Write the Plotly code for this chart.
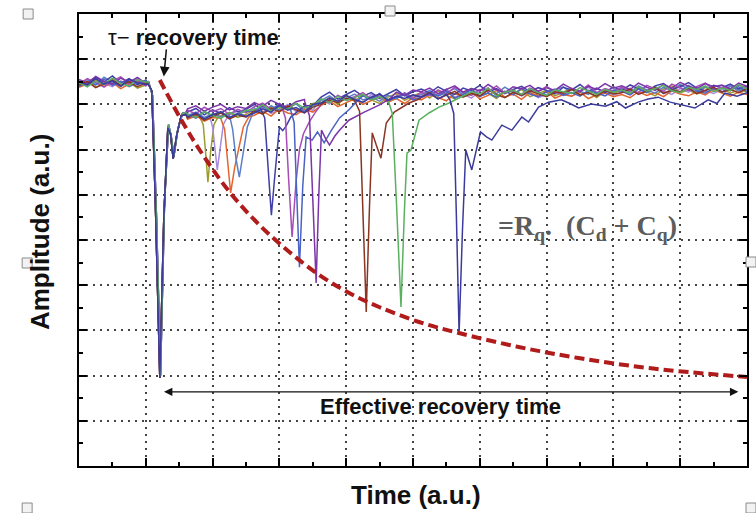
import plotly.graph_objects as go

# ---------------- data (axis units: time 0..10 divisions, amplitude 0..10 divisions) -------------
GRID_STEP = 0.125
N_GRID = 81

# shared first avalanche pulse (two slightly different shapes)
PULSE_1_X = [1.04, 1.09, 1.14, 1.21, 1.27, 1.33, 1.37, 1.41, 1.46, 1.53, 1.60]
PULSE_1_Y = [8.45, 8.30, 6.00, 1.95, 5.50, 7.48, 7.35, 6.80, 7.30, 7.75, 7.78]
PULSE_2_X = [1.04, 1.10, 1.16, 1.22, 1.28, 1.34, 1.38, 1.42, 1.48, 1.55, 1.60]
PULSE_2_Y = [8.50, 8.20, 5.50, 2.00, 5.80, 7.55, 7.30, 6.85, 7.45, 7.80, 7.82]

colors = ["#9c9c2e", "#a78bdc", "#e2652e", "#5b7fc6", "#3f3fa6", "#a64db6",
          "#4a62c4", "#7c35a8", "#8a3524", "#5bb060", "#3b3b9e"]

base_A = [8.42, 8.50, 8.38, 8.47, 8.55, 8.41, 8.49, 8.36, 8.44,
          7.8, 7.8, 7.8, 7.8,
          7.73, 7.80, 7.65, 7.76, 7.69, 7.82, 7.71, 7.78,
          7.89, 7.78, 7.95, 7.83, 7.98, 7.86, 7.92, 8.02,
          8.04, 8.15, 8.00, 8.18, 8.07, 8.21, 8.10, 8.02, 8.16, 8.24, 8.09, 8.19,
          8.26, 8.14, 8.30, 8.20, 8.12, 8.27, 8.35, 8.18, 8.25, 8.13, 8.29, 8.22,
          8.33, 8.17, 8.24, 8.31, 8.19, 8.28, 8.36, 8.21, 8.27, 8.15, 8.30, 8.24,
          8.33, 8.22, 8.37, 8.28, 8.19, 8.34, 8.41, 8.26, 8.31, 8.23, 8.38, 8.29, 8.35, 8.25, 8.32, 8.28]
base_B = [8.50, 8.41, 8.56, 8.46, 8.39, 8.52, 8.44, 8.58, 8.47,
          7.9, 7.9, 7.9, 7.9,
          7.80, 7.69, 7.83, 7.75, 7.67, 7.78, 7.85, 7.72,
          7.82, 7.94, 7.80, 7.88, 8.00, 7.84, 7.96, 7.87,
          8.12, 8.01, 8.20, 8.09, 8.14, 8.03, 8.22, 8.13, 8.06, 8.17, 8.25, 8.11,
          8.18, 8.28, 8.21, 8.34, 8.16, 8.23, 8.14, 8.29, 8.37, 8.20, 8.26, 8.32,
          8.19, 8.27, 8.15, 8.22, 8.33, 8.25, 8.18, 8.30, 8.38, 8.23, 8.29, 8.20,
          8.27, 8.36, 8.24, 8.31, 8.40, 8.29, 8.22, 8.35, 8.27, 8.39, 8.30, 8.24, 8.33, 8.42, 8.29, 8.34]
base_C = [8.38, 8.46, 8.53, 8.40, 8.48, 8.35, 8.45, 8.51, 8.42,
          7.8, 7.8, 7.8, 7.8,
          7.67, 7.75, 7.63, 7.71, 7.78, 7.66, 7.74, 7.69,
          7.76, 7.85, 7.74, 7.90, 7.81, 7.77, 7.89, 7.83,
          7.98, 8.08, 7.95, 8.04, 8.12, 8.00, 8.09, 8.17, 8.05, 8.13, 8.02, 8.15,
          8.10, 8.21, 8.15, 8.08, 8.24, 8.17, 8.27, 8.12, 8.20, 8.31, 8.16, 8.23,
          8.11, 8.26, 8.19, 8.29, 8.14, 8.22, 8.18, 8.27, 8.13, 8.21, 8.25, 8.17,
          8.22, 8.15, 8.28, 8.20, 8.26, 8.17, 8.30, 8.23, 8.19, 8.28, 8.21, 8.33, 8.25, 8.18, 8.27, 8.22]
base_D = [8.47, 8.55, 8.43, 8.60, 8.49, 8.40, 8.53, 8.45, 8.50,
          7.85, 7.85, 7.85, 7.85,
          7.75, 7.83, 7.71, 7.79, 7.73, 7.81, 7.68, 7.76,
          7.92, 7.81, 7.97, 7.87, 7.93, 8.01, 7.85, 7.95,
          8.09, 8.19, 8.06, 8.14, 8.23, 8.10, 8.16, 8.07, 8.20, 8.12, 8.26, 8.15,
          8.22, 8.31, 8.18, 8.26, 8.35, 8.21, 8.28, 8.17, 8.32, 8.24, 8.38, 8.27,
          8.20, 8.34, 8.26, 8.19, 8.31, 8.39, 8.24, 8.29, 8.22, 8.35, 8.27, 8.32,
          8.36, 8.27, 8.41, 8.32, 8.25, 8.38, 8.30, 8.44, 8.33, 8.28, 8.39, 8.34, 8.27, 8.40, 8.31, 8.36]
base_E = [8.52, 8.44, 8.60, 8.50, 8.63, 8.47, 8.57, 8.43, 8.54,
          7.9, 7.9, 7.9, 7.9,
          7.83, 7.91, 7.77, 7.88, 7.80, 7.93, 7.84, 7.89,
          8.00, 7.92, 8.04, 7.96, 8.08, 7.94, 8.02, 7.97,
          8.16, 8.27, 8.12, 8.22, 8.31, 8.18, 8.26, 8.14, 8.24, 8.33, 8.19, 8.28,
          8.34, 8.25, 8.39, 8.29, 8.22, 8.36, 8.30, 8.42, 8.27, 8.35, 8.24, 8.33,
          8.40, 8.28, 8.37, 8.31, 8.23, 8.38, 8.32, 8.44, 8.29, 8.36, 8.26, 8.39,
          8.31, 8.43, 8.35, 8.28, 8.41, 8.46, 8.33, 8.39, 8.48, 8.36, 8.30, 8.42, 8.37, 8.45, 8.34, 8.40]
base_F = [8.45, 8.57, 8.48, 8.38, 8.52, 8.61, 8.46, 8.55, 8.41,
          7.95, 7.95, 7.95, 7.95,
          7.87, 7.79, 7.94, 7.84, 7.91, 7.78, 7.89, 7.82,
          7.95, 8.03, 7.89, 7.99, 8.06, 7.93, 8.01, 7.97,
          8.13, 8.05, 8.20, 8.11, 8.17, 8.26, 8.12, 8.21, 8.09, 8.18, 8.24, 8.14,
          8.27, 8.19, 8.32, 8.23, 8.38, 8.26, 8.20, 8.33, 8.28, 8.41, 8.25, 8.31,
          8.22, 8.36, 8.29, 8.40, 8.27, 8.21, 8.34, 8.30, 8.43, 8.26, 8.35, 8.29,
          8.38, 8.30, 8.26, 8.42, 8.34, 8.29, 8.45, 8.37, 8.31, 8.40, 8.47, 8.33, 8.38, 8.30, 8.43, 8.36]
base_G = [8.40, 8.49, 8.44, 8.56, 8.42, 8.50, 8.39, 8.48, 8.53,
          7.85, 7.85, 7.85, 7.85,
          7.77, 7.70, 7.85, 7.74, 7.82, 7.69, 7.80, 7.86,
          7.84, 7.96, 7.87, 8.02, 7.90, 7.98, 7.86, 7.94,
          8.08, 8.17, 8.03, 8.13, 8.07, 8.19, 8.11, 8.24, 8.08, 8.16, 8.21, 8.10,
          8.15, 8.24, 8.19, 8.30, 8.14, 8.22, 8.33, 8.18, 8.25, 8.16, 8.29, 8.21,
          8.36, 8.23, 8.17, 8.28, 8.34, 8.20, 8.26, 8.18, 8.31, 8.25, 8.19, 8.30,
          8.29, 8.21, 8.34, 8.26, 8.38, 8.24, 8.31, 8.27, 8.42, 8.30, 8.25, 8.36, 8.28, 8.33, 8.39, 8.29]
base_H = [8.55, 8.47, 8.62, 8.51, 8.45, 8.58, 8.49, 8.60, 8.46,
          7.95, 7.95, 7.95, 7.95,
          7.90, 7.97, 7.85, 7.94, 8.00, 7.88, 7.95, 7.91,
          8.04, 7.96, 8.09, 8.00, 7.94, 8.06, 8.11, 7.99,
          8.20, 8.12, 8.26, 8.17, 8.29, 8.15, 8.23, 8.31, 8.18, 8.27, 8.20, 8.32,
          8.28, 8.36, 8.24, 8.33, 8.41, 8.27, 8.35, 8.30, 8.44, 8.32, 8.26, 8.39,
          8.34, 8.42, 8.29, 8.37, 8.31, 8.45, 8.35, 8.28, 8.40, 8.33, 8.46, 8.36,
          8.41, 8.33, 8.47, 8.38, 8.31, 8.44, 8.36, 8.49, 8.40, 8.35, 8.46, 8.39, 8.43, 8.34, 8.47, 8.40]
base_I = [8.43, 8.51, 8.37, 8.46, 8.54, 8.42, 8.50, 8.39, 8.47,
          7.8, 7.8, 7.8, 7.8,
          7.70, 7.78, 7.65, 7.73, 7.81, 7.68, 7.76, 7.72,
          7.86, 7.79, 7.92, 7.84, 7.97, 7.88, 7.81, 7.94,
          8.00, 8.10, 8.04, 8.13, 8.06, 8.17, 8.08, 8.14, 8.05, 8.18, 8.11, 8.20,
          8.17, 8.26, 8.12, 8.21, 8.29, 8.16, 8.24, 8.19, 8.32, 8.22, 8.15, 8.27,
          8.20, 8.30, 8.23, 8.17, 8.28, 8.25, 8.33, 8.21, 8.26, 8.18, 8.31, 8.23,
          8.26, 8.34, 8.22, 8.30, 8.37, 8.25, 8.32, 8.28, 8.36, 8.24, 8.31, 8.38, 8.27, 8.33, 8.26, 8.35]
base_J = [8.48, 8.39, 8.52, 8.44, 8.58, 8.46, 8.41, 8.55, 8.49,
          7.85, 7.85, 7.85, 7.85,
          7.78, 7.71, 7.84, 7.75, 7.69, 7.82, 7.76, 7.87,
          7.88, 7.99, 7.85, 7.94, 7.89, 8.03, 7.92, 7.97,
          8.12, 8.04, 8.18, 8.09, 8.15, 8.22, 8.10, 8.17, 8.25, 8.12, 8.19, 8.08,
          8.21, 8.30, 8.17, 8.25, 8.33, 8.20, 8.28, 8.23, 8.36, 8.19, 8.27, 8.31,
          8.22, 8.35, 8.26, 8.20, 8.32, 8.28, 8.24, 8.37, 8.29, 8.22, 8.33, 8.27,
          8.32, 8.25, 8.39, 8.29, 8.35, 8.42, 8.30, 8.26, 8.38, 8.33, 8.41, 8.28, 8.36, 8.31, 8.44, 8.34]
base_K = [8.50, 8.43, 8.57, 8.45, 8.52, 8.40, 8.56, 8.48, 8.44,
          7.85, 7.85, 7.85, 7.85,
          7.72, 7.81, 7.68, 7.77, 7.84, 7.71, 7.79, 7.74,
          7.81, 7.90, 7.83, 7.98, 7.87, 7.93, 7.82, 8.00,
          8.03, 8.14, 8.07, 8.20, 8.11, 8.05, 8.16, 8.23, 8.09, 8.18, 8.13, 8.21,
          8.16, 8.25, 8.12, 8.22, 8.20, 8.15, 8.25, 8.18, 8.22, 8.14, 8.27, 8.20,
          8.24, 8.17, 8.29, 8.21, 8.26, 8.19, 8.23, 8.16, 8.28, 8.22, 8.25, 8.18,
          8.24, 8.19, 8.27, 8.22, 8.17, 8.26, 8.21, 8.29, 8.23, 8.18, 8.25, 8.30, 8.22, 8.27, 8.20, 8.26]

# second (after-pulse) avalanches of each trace
ev_A_x = [1.80, 1.86, 1.90, 1.93, 1.97, 2.02, 2.08, 2.14]
ev_A_y = [7.75, 7.55, 6.85, 6.28, 6.95, 7.55, 7.72, 7.76]
ev_B_x = [1.95, 2.00, 2.04, 2.07, 2.11, 2.16, 2.22]
ev_B_y = [7.78, 7.50, 6.90, 6.55, 7.00, 7.55, 7.72]
ev_C_x = [2.12, 2.18, 2.23, 2.27, 2.33, 2.40, 2.46, 2.54]
ev_C_y = [7.70, 7.45, 6.60, 6.04, 6.60, 7.10, 7.50, 7.72]
ev_D_x = [2.25, 2.30, 2.35, 2.40, 2.45, 2.52, 2.60]
ev_D_y = [7.78, 7.45, 6.80, 6.39, 6.90, 7.50, 7.80]
ev_E_x = [2.72, 2.78, 2.83, 2.88, 2.93, 3.00, 3.05, 3.10, 3.17, 3.28, 3.38]
ev_E_y = [7.90, 7.70, 6.50, 5.55, 6.40, 7.50, 7.42, 7.52, 7.72, 7.85, 7.97]
ev_F_x = [3.03, 3.09, 3.14, 3.19, 3.25, 3.30, 3.36, 3.45, 3.55, 3.65]
ev_F_y = [7.97, 7.70, 6.30, 5.07, 6.30, 7.00, 7.35, 7.62, 7.85, 8.05]
ev_G_x = [3.16, 3.22, 3.26, 3.30, 3.35, 3.40, 3.49, 3.57, 3.67, 3.78, 3.90, 4.04, 4.15]
ev_G_y = [7.92, 7.60, 6.00, 4.40, 6.20, 7.28, 7.21, 7.39, 7.15, 7.43, 7.70, 7.88, 8.05]
ev_H_x = [3.38, 3.45, 3.50, 3.55, 3.59, 3.63, 3.69, 3.75, 3.83, 3.90, 4.04, 4.27, 4.50, 4.65]
ev_H_y = [8.06, 7.75, 6.00, 4.05, 6.00, 7.43, 7.25, 7.10, 7.30, 7.43, 7.65, 7.83, 7.99, 8.12]
ev_I_x = [4.12, 4.20, 4.25, 4.30, 4.35, 4.39, 4.45, 4.52, 4.60, 4.72, 4.94, 5.10]
ev_I_y = [8.10, 7.85, 5.80, 3.41, 5.80, 7.37, 7.10, 6.81, 7.59, 7.83, 8.03, 8.12]
ev_J_x = [4.62, 4.69, 4.75, 4.82, 4.87, 4.91, 4.97, 5.09, 5.24, 5.39, 5.54, 5.70]
ev_J_y = [8.12, 7.80, 5.90, 3.52, 5.60, 6.92, 6.99, 7.65, 7.81, 7.94, 8.03, 8.15]
ev_K_x = [5.55, 5.61, 5.65, 5.69, 5.74, 5.79, 5.88, 6.01, 6.10, 6.18, 6.33, 6.48, 6.63, 6.73,
          6.88, 7.03, 7.22, 7.35, 7.48, 7.67, 7.88, 8.05, 8.18, 8.37, 8.52, 8.67, 8.85, 9.05,
          9.22, 9.42, 9.55, 9.67, 9.85, 10.0]
ev_K_y = [8.12, 7.80, 5.50, 2.94, 5.20, 6.99, 6.55, 7.39, 7.28, 7.21, 7.54, 7.43, 7.72, 7.61,
          7.94, 8.05, 8.10, 8.02, 7.92, 8.01, 7.96, 8.06, 7.92, 8.05, 8.12, 8.16, 8.05, 7.98,
          7.92, 8.10, 8.02, 8.25, 8.18, 8.26]

# recovery-time fit curve (red dashed)
fit_x = [1.209, 1.507, 1.806, 2.254, 2.701, 3.149, 3.597, 4.045, 4.493, 5.090, 5.687,
         6.582, 7.478, 8.522, 10.0]
fit_y = [8.540, 7.721, 6.991, 6.062, 5.332, 4.735, 4.226, 3.827, 3.518, 3.186, 2.942,
         2.633, 2.389, 2.168, 1.969]

bases = [base_A, base_B, base_C, base_D, base_E, base_F, base_G, base_H, base_I, base_J, base_K]
events = [(ev_A_x, ev_A_y), (ev_B_x, ev_B_y), (ev_C_x, ev_C_y), (ev_D_x, ev_D_y),
          (ev_E_x, ev_E_y), (ev_F_x, ev_F_y), (ev_G_x, ev_G_y), (ev_H_x, ev_H_y),
          (ev_I_x, ev_I_y), (ev_J_x, ev_J_y), (ev_K_x, ev_K_y)]

# ---------------- figure -------------
W, H = 756, 513
ML, MR, MT, MB = 79, 7, 14, 47
PW, PH = W - ML - MR, H - MT - MB


def px(xp):
    return (xp - ML) / PW


def py(yp):
    return (H - MB - yp) / PH


fig = go.Figure()

grid_x = [i * GRID_STEP for i in range(N_GRID)]
for k, (base, (ex, ey)) in enumerate(zip(bases, events)):
    pxs, pys = (PULSE_1_X, PULSE_1_Y) if k % 2 == 0 else (PULSE_2_X, PULSE_2_Y)
    windows = [(pxs[0], pxs[-1]), (ex[0], ex[-1])]
    pts = [(gx, gy) for gx, gy in zip(grid_x, base)
           if not any(a <= gx <= b for a, b in windows)]
    pts += list(zip(pxs, pys)) + list(zip(ex, ey))
    pts.sort()
    fig.add_trace(go.Scatter(x=[p[0] for p in pts], y=[p[1] for p in pts], mode="lines",
                             line=dict(color=colors[k], width=1.5), hoverinfo="skip",
                             showlegend=False))

fig.add_trace(go.Scatter(x=fit_x, y=fit_y, mode="lines",
                         line=dict(color="#b01c1c", width=4, dash="10px,5px", shape="spline",
                                   smoothing=1.0),
                         hoverinfo="skip", showlegend=False))

axis_common = dict(range=[0, 10], dtick=1, tick0=0, showticklabels=False,
                   showline=True, linecolor="black", linewidth=2, mirror="allticks",
                   ticks="inside", ticklen=8, tickwidth=2, tickcolor="black",
                   showgrid=True, gridcolor="#444", gridwidth=1.5, griddash="2px,5px",
                   zeroline=False, fixedrange=True,
                   minor=dict(ticks="inside", ticklen=4, tickwidth=1.5, dtick=0.5,
                              tickcolor="black", showgrid=False))

fig.update_layout(
    width=W, height=H,
    margin=dict(l=ML, r=MR, t=MT, b=MB),
    paper_bgcolor="white", plot_bgcolor="white",
    xaxis=axis_common, yaxis=axis_common,
    font=dict(family="Liberation Sans, Arial, sans-serif", color="#111"),
)

annotations = [
    dict(text="<b>Amplitude (a.u.)</b>", xref="paper", yref="paper", x=px(40), y=py(232),
         xanchor="center", yanchor="middle",
         textangle=-90, showarrow=False, font=dict(size=26, color="#111")),
    dict(text="<b>Time (a.u.)</b>", xref="paper", yref="paper", x=px(417), y=py(495),
         xanchor="center", yanchor="middle",
         showarrow=False, font=dict(size=26, color="#111")),
    dict(text="τ− <b>recovery time</b>", xref="x", yref="y", x=0.40, y=9.49,
         xanchor="left", yanchor="middle", showarrow=False, font=dict(size=22, color="#111")),
    dict(text="", xref="x", yref="y", x=1.27, y=8.62, axref="x", ayref="y", ax=1.31, ay=9.25,
         showarrow=True, arrowhead=2, arrowsize=1.3, arrowwidth=1.5, arrowcolor="#111"),
    dict(text="", xref="x", yref="y", x=9.87, y=1.64, axref="x", ayref="y", ax=1.25, ay=1.64,
         showarrow=True, arrowhead=2, startarrowhead=2, arrowside="end+start",
         arrowsize=1.4, startarrowsize=1.4, arrowwidth=1.2, arrowcolor="#111"),
    dict(text="<b>Effective recovery time</b>", xref="x", yref="y", x=3.58, y=1.31,
         xanchor="left", yanchor="middle", showarrow=False, font=dict(size=22, color="#111")),
    dict(text="=R<sub>q</sub>.  (C<sub>d</sub> + C<sub>q</sub>)", xref="x", yref="y", x=6.24, y=5.28,
         xanchor="left", yanchor="middle", showarrow=False,
         font=dict(size=28, color="#5c5c5c", family="Liberation Serif, Times New Roman, serif",
                   weight="bold")),
]
fig.update_layout(annotations=annotations)

# small gray selection handles around the image
handles = [(28, 14), (391, 11), (27, 263), (753, 262), (27, 508), (753, 508)]
for hx, hy in handles:
    fig.add_shape(type="rect", xref="paper", yref="paper",
                  x0=px(hx - 5), x1=px(hx + 5), y0=py(hy + 5), y1=py(hy - 5),
                  line=dict(color="#8a8a8a", width=1), fillcolor="#f2f2f2", layer="above")

fig.write_html("out.html")
